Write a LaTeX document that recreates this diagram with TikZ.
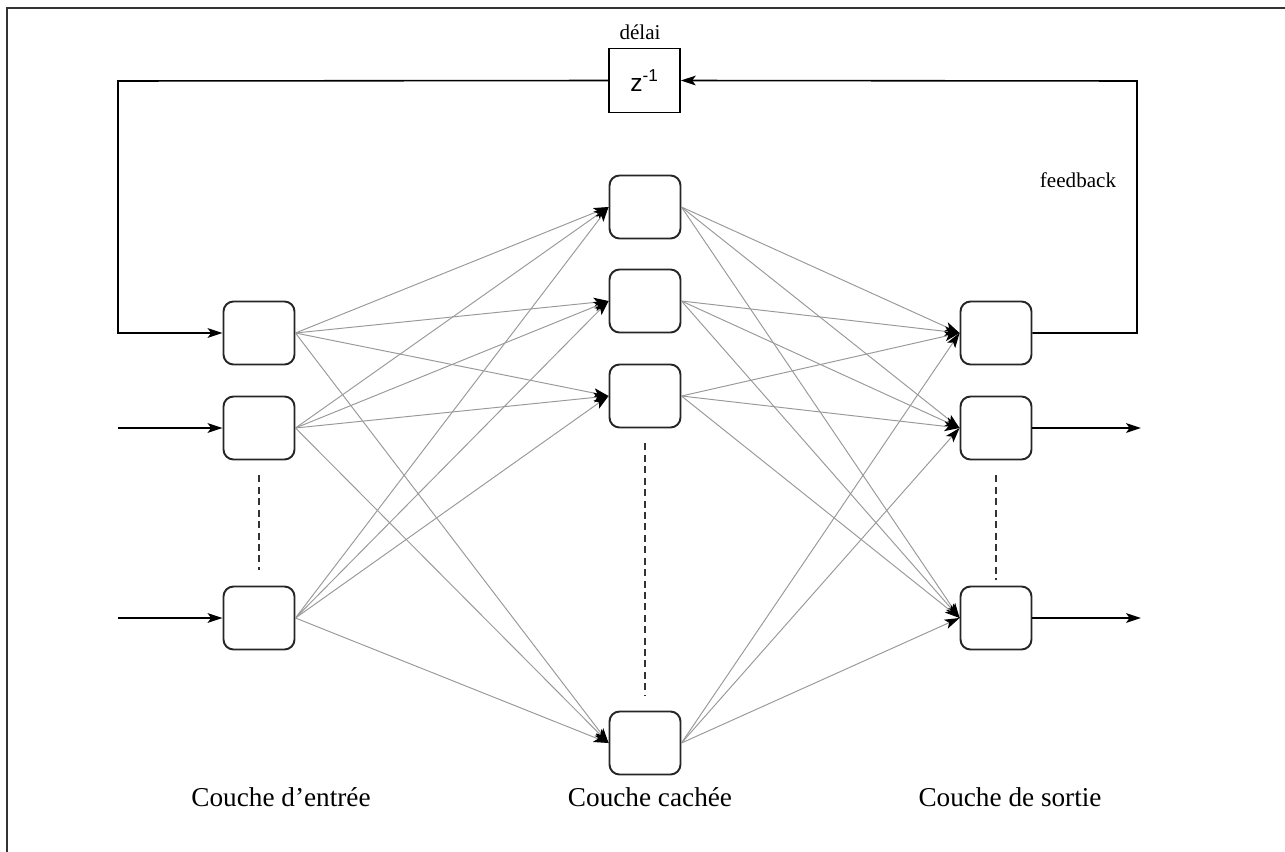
\documentclass[tikz,border=0pt]{standalone}
\usepackage{fontspec}
\setmainfont{Liberation Serif}
\newfontfamily\sansz{Liberation Sans}
\usetikzlibrary{arrows.meta}
\begin{document}
\begin{tikzpicture}[x=0.02cm,y=-0.02cm,
  neuron/.style={draw=black!85, line width=1.1pt, rounded corners=0.2cm, minimum width=1.42cm, minimum height=1.26cm, inner sep=0pt, fill=white},
  tip/.style={-{Stealth[length=8.5pt,width=5.5pt,inset=2pt,color=black]}},
  syn/.style={draw=black!40, line width=0.55pt, tip},
  fbline/.style={draw=black, line width=0.9pt},
  dots/.style={draw=black!80, line width=0.8pt, dash pattern=on 4pt off 2.5pt},
  lbl/.style={font=\fontsize{15.5}{18}\selectfont, inner sep=0pt},
  small/.style={font=\fontsize{12}{14}\selectfont, inner sep=0pt}]
\useasboundingbox (0,0) rectangle (1285,852);
\draw[black!80, line width=1.1pt] (7,852) -- (7,8) -- (1285,8);
% input layer
\node[neuron] (i1) at (259,333) {};
\node[neuron] (i2) at (259,428) {};
\node[neuron] (i3) at (259,618) {};
% hidden layer
\node[neuron] (h1) at (645,207) {};
\node[neuron] (h2) at (645,301) {};
\node[neuron] (h3) at (645,396) {};
\node[neuron] (h4) at (645,743) {};
% output layer
\node[neuron] (o1) at (996,333) {};
\node[neuron] (o2) at (996,428) {};
\node[neuron] (o3) at (996,618) {};
% delay
\node[draw=black, line width=0.9pt, minimum width=1.42cm, minimum height=1.28cm, inner sep=0pt] (d) at (644.5,80.5) {\sansz\fontsize{14}{16}\selectfont z\textsuperscript{-1}};
\node[small] (dl) at (640,32) {délai};
\node[small] (fbl) at (1078,180) {feedback};
% connections
\foreach \i in {i1,i2,i3} \foreach \h in {h1,h2,h3,h4} \draw[syn] (\i.east) -- (\h.west);
\foreach \h in {h1,h2,h3,h4} \foreach \o in {o1,o2,o3} \draw[syn] (\h.east) -- (\o.west);
% feedback
\coordinate (fbR) at (1137,81);
\coordinate (fbL) at (118,81);
\draw[fbline, tip] (o1.east) -| (fbR) -- (d.east);
\draw[fbline, tip] (d.west) -- (fbL) |- (i1.west);
% inputs / outputs
\coordinate (inx) at (118,0);
\coordinate (outx) at (1141,0);
\draw[fbline, tip] (inx |- i2.west) -- (i2.west);
\draw[fbline, tip] (inx |- i3.west) -- (i3.west);
\draw[fbline, tip] (o2.east) -- (outx |- o2.east);
\draw[fbline, tip] (o3.east) -- (outx |- o3.east);
% dashed
\draw[dots] ([yshift=-0.3cm]i2.south) -- ([yshift=0.32cm]i3.north);
\draw[dots] ([yshift=-0.3cm]h3.south) -- ([yshift=0.3cm]h4.north);
\draw[dots] ([yshift=-0.3cm]o2.south) -- ([yshift=0.12cm]o3.north);
% labels
\node[lbl] (l1) at (281,797) {Couche d’entrée};
\node[lbl] (l2) at (650,797) {Couche cachée};
\node[lbl] (l3) at (1010,797) {Couche de sortie};
\end{tikzpicture}
\end{document}
